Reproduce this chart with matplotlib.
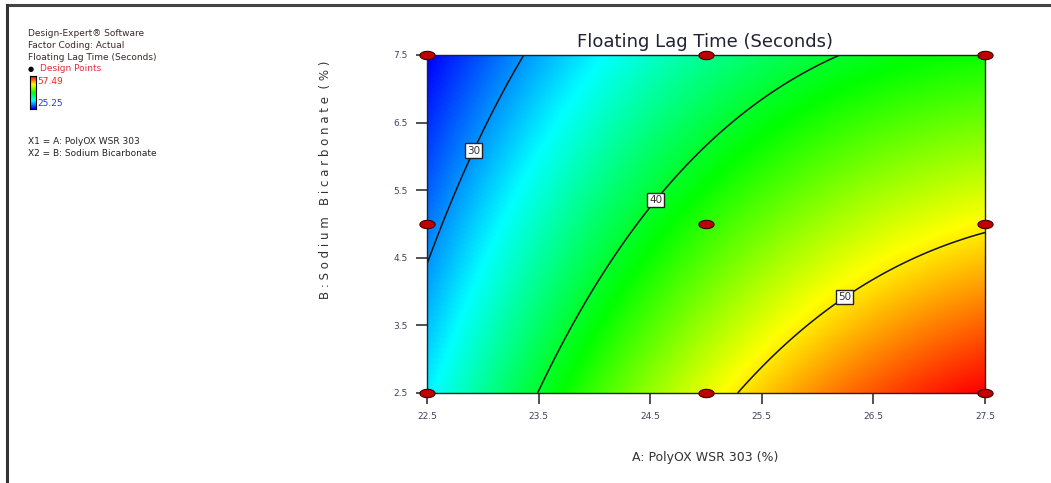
import numpy as np
import matplotlib
matplotlib.use("Agg")
import matplotlib.pyplot as plt
from matplotlib.colors import LinearSegmentedColormap
from matplotlib.path import Path

# factor ranges (actual units)
a_low, a_high = 22.5, 27.5
b_low, b_high = 2.5, 7.5
x_ticks = [22.5, 23.5, 24.5, 25.5, 26.5, 27.5]
y_ticks = [2.5, 3.5, 4.5, 5.5, 6.5, 7.5]

# quadratic model in coded units: b0, A, B, A^2, B^2, AB
coef = [42.74, 10.26, -5.91, -3.40, 0.0, -2.02]
resp_min, resp_max = 25.25, 57.49

# design points (3x3 factorial)
design_a = [22.5, 25.0, 27.5, 22.5, 25.0, 27.5, 22.5, 25.0, 27.5]
design_b = [7.5, 7.5, 7.5, 5.0, 5.0, 5.0, 2.5, 2.5, 2.5]

levels = [30, 40, 50]
label_pos = [(22.9, 6.1), (24.56, 5.34), (26.23, 3.95)]

def model(x, y):
    a = (x - 25.0) / 2.5
    b = (y - 5.0) / 2.5
    return coef[0] + coef[1]*a + coef[2]*b + coef[3]*a*a + coef[4]*b*b + coef[5]*a*b

cmap = LinearSegmentedColormap.from_list(
    "de", ["#0000ff", "#00ffff", "#00ff00", "#ffff00", "#ff0000"])

fig = plt.figure(figsize=(10.51, 4.83), dpi=100)
W, H = 1051, 483
ax = fig.add_axes([427/W, 1-393/H, (985-427)/W, (393-55)/H])

xs = np.linspace(a_low, a_high, 300)
ys = np.linspace(b_low, b_high, 300)
X, Y = np.meshgrid(xs, ys)
Z = model(X, Y)
ax.imshow(Z, origin="lower", extent=[a_low, a_high, b_low, b_high], aspect="auto",
          cmap=cmap, vmin=resp_min, vmax=resp_max, interpolation="bilinear")
cs = ax.contour(X, Y, Z, levels=levels, colors="#111111", linewidths=1.1)
lbls = ax.clabel(cs, fmt="%d", fontsize=7.5, manual=label_pos, inline=False)
for t in lbls:
    t.set_rotation(0)
    t.set_bbox(dict(facecolor="white", edgecolor="#222222", pad=1.5, linewidth=1.0))
    t.set_color("#333333")

# ellipse marker for design points
theta = np.linspace(0, 2*np.pi, 40)
ell = Path(np.column_stack([np.cos(theta), 0.55*np.sin(theta)]), closed=True)
ax.scatter(design_a, design_b, marker=ell, s=120, c="#c00000", edgecolors="#400000",
           linewidths=0.8, zorder=5, clip_on=False)

ax.set_xlim(a_low, a_high)
ax.set_ylim(b_low, b_high)
ax.set_xticks(x_ticks)
ax.set_yticks(y_ticks)
ax.set_xticklabels([str(v) for v in x_ticks])
ax.set_yticklabels([str(v) for v in y_ticks])
ax.tick_params(direction="out", length=8, width=1.2, labelsize=6.5,
               labelcolor="#3a4560", color="#333333", pad=6)
for s in ax.spines.values():
    s.set_linewidth(1.0)
    s.set_color("#222222")

fig.text(705/W, 1-457/H, "A: PolyOX WSR 303 (%)", ha="center", va="center",
         fontsize=9, color="#333333")
fig.text(325/W, 1-180/H, "B : S o d i u m   B i c a r b o n a t e  ( % )",
         rotation=90, ha="center", va="center", fontsize=8.5, color="#333333")
fig.text(705/W, 1-42/H, "Floating Lag Time (Seconds)", ha="center", va="center",
         fontsize=13, color="#222233")

# info block at top left
info = ["Design-Expert\u00ae Software", "Factor Coding: Actual", "Floating Lag Time (Seconds)"]
for i, s in enumerate(info):
    fig.text(28/W, 1-(33+12*i)/H, s, fontsize=6.5, color="#3a2a2a", va="center")
fig.text(28/W, 1-69/H, "\u25cf", fontsize=5, color="black", va="center")
fig.text(40/W, 1-69/H, "Design Points", fontsize=6.5, color="#e03040", va="center")
cax = fig.add_axes([30/W, 1-109/H, 6/W, 33/H])
cax.imshow(np.linspace(0, 1, 50)[:, None], origin="lower", aspect="auto", cmap=cmap)
cax.set_xticks([])
cax.set_yticks([])
fig.text(37/W, 1-82/H, "57.49", fontsize=6.5, color="#ff2020", va="center")
fig.text(37/W, 1-104/H, "25.25", fontsize=6.5, color="#3030ff", va="center")
fig.text(28/W, 1-142/H, "X1 = A: PolyOX WSR 303", fontsize=6.5, color="#222222", va="center")
fig.text(28/W, 1-154/H, "X2 = B: Sodium Bicarbonate", fontsize=6.5, color="#222222", va="center")

# page frame lines (top and left)
fig.add_artist(plt.Line2D([7/W, 1], [1-5/H, 1-5/H], color="#444444", linewidth=2.2))
fig.add_artist(plt.Line2D([7/W, 7/W], [0, 1-5/H], color="#333333", linewidth=2.2))

fig.savefig("out.png", dpi=100)
